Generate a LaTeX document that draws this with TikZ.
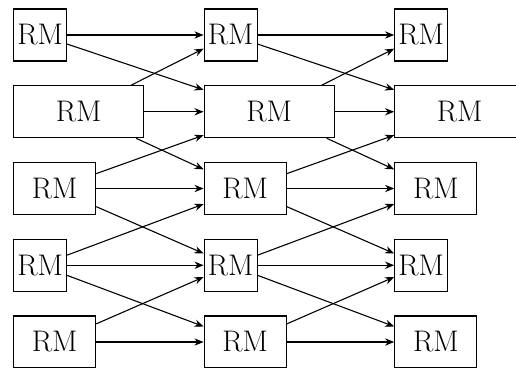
\documentclass[tikz,border=0pt]{standalone}
\usetikzlibrary{arrows.meta}
\tikzset{
    rmbox/.style={draw, line width=0.6pt, minimum height=1cm, inner sep=0pt, anchor=west, font=\fontsize{16.3}{19}\selectfont},
    link/.style={line width=0.6pt, -{Stealth[length=5pt, width=4pt]}}
}
\begin{document}
\begin{tikzpicture}
    \useasboundingbox (0,0) rectangle (9.923,-7.077);
    \clip (0,0) rectangle (9.923,-7.06);
    % three columns of RM boxes
    \foreach \c/\x in {1/0.25, 2/3.915, 3/7.58}{
        \foreach \r/\w in {1/1.02cm, 2/2.5cm, 3/1.58cm, 4/1.02cm, 5/1.58cm}{
            \node[rmbox, minimum width=\w] (rm-\c-\r) at ({\x}, {-0.673-1.476*(\r-1)}) {RM};
        }
    }
    % links to the next column
    \foreach \c/\n in {1/2, 2/3}{
        \foreach \r in {1,...,5}{
            \draw[link] (rm-\c-\r) -- (rm-\n-\r);
        }
        \foreach \r/\u in {2/1, 3/2, 4/3, 5/4}{
            \draw[link] (rm-\c-\r) -- (rm-\n-\u);
            \draw[link] (rm-\c-\u) -- (rm-\n-\r);
        }
    }
\end{tikzpicture}
\end{document}
